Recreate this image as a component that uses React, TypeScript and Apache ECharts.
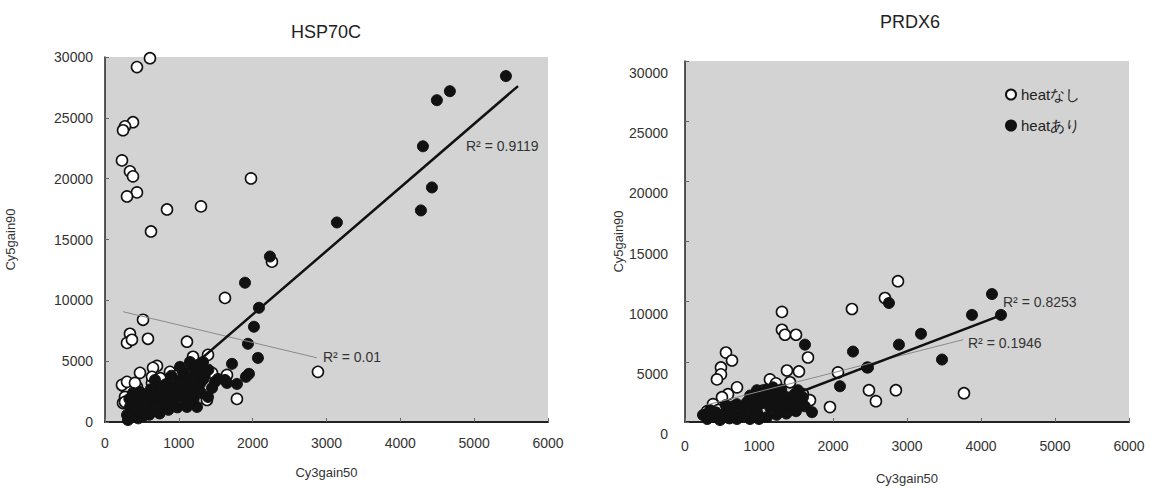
import React, { useEffect, useRef } from "react";
import * as echarts from "echarts";

const chartTitles = ["HSP70C", "PRDX6"];
const seriesNames = ["heatなし", "heatあり"];
const xAxisName = "Cy3gain50";
const yAxisName = "Cy5gain90";

// HSP70C, heat なし (open circles)
const hspNashi: number[][] = [
  [609, 29900], [433, 29170], [379, 24640], [271, 24300], [244, 23980], [230, 21500],
  [338, 20600], [379, 20190], [433, 18870], [298, 18540], [1977, 20020], [840, 17470],
  [1300, 17720], [623, 15660], [2261, 13180], [1625, 10200], [515, 8400], [338, 7250],
  [298, 6500], [365, 6760], [582, 6840], [1110, 6600], [1192, 5360], [1395, 5520],
  [704, 4610], [650, 4450], [474, 4040], [880, 4120], [244, 2970], [311, 2800],
  [433, 2880], [636, 3210], [650, 2470], [271, 2060], [244, 1560], [1449, 4040],
  [1652, 3870], [1787, 1900], [1381, 1810], [2884, 4120], [230, 3050], [298, 3300],
  [406, 3210], [636, 3710], [271, 1650], [900, 3300], [1000, 3900], [550, 2200],
  [750, 3600], [1200, 4300],
];

// HSP70C, heat あり (filled circles)
const hspAri: number[][] = [
  [5430, 28430], [4671, 27190], [4495, 26450], [4306, 22660], [4428, 19280], [4279, 17390],
  [3141, 16400], [2234, 13600], [1896, 11450], [2085, 9390], [2017, 7830], [1936, 6430],
  [2071, 5270], [1720, 4780], [1950, 3960], [1909, 3710], [1787, 3130], [1652, 3210],
  [1530, 3540], [1286, 3130], [1395, 2060], [1246, 1240], [1286, 4530], [1327, 4940],
  [1219, 4040], [1056, 4120], [1016, 3460], [1260, 3210], [907, 2880], [840, 2390],
  [1056, 2390], [921, 1560], [704, 1650], [569, 2060], [474, 2470], [379, 2390],
  [433, 1650], [338, 1240], [298, 580], [311, 160], [515, 990], [609, 1240],
  [785, 1240], [1110, 1240], [1083, 1810], [1490, 3300], [1625, 3460], [1151, 4940],
  [1016, 4530], [677, 3460], [745, 2880], [380, 800], [450, 300], [600, 600],
  [700, 2600], [1150, 2800], [950, 2000], [1200, 1900], [500, 1700], [800, 1900],
  [1000, 3000], [1350, 3800], [330, 1900], [420, 1100], [520, 500], [560, 1500],
  [650, 900], [660, 2200], [740, 700], [760, 2100], [860, 1000], [880, 1700],
  [980, 1200], [1000, 2500], [1060, 3200], [1130, 3600], [1180, 2300], [1230, 2700],
  [1300, 2400], [1330, 3500], [1400, 4300], [1450, 2800], [1180, 4600], [900, 3800],
  [820, 3100], [620, 2700], [360, 400], [700, 1200], [1150, 1700], [1260, 4700],
];

// PRDX6, heat なし
const prdNashi: number[][] = [
  [1310, 9150], [1310, 7660], [1351, 7250], [1500, 7250], [1662, 5360], [2256, 9390],
  [554, 5770], [635, 5110], [486, 4530], [486, 3960], [432, 3540], [703, 2880],
  [1378, 4280], [1540, 4200], [1148, 3540], [1229, 3210], [1419, 3300], [2067, 4120],
  [581, 2310], [500, 2060], [378, 1480], [1594, 2310], [1689, 1810], [1959, 1240],
  [2486, 2640], [2878, 11700], [2702, 10300], [2580, 1730], [2850, 2640], [3770, 2390],
  [300, 900], [450, 1000], [900, 2000], [1050, 2600],
];

// PRDX6, heat あり
const prdAri: number[][] = [
  [4148, 10630], [4270, 8900], [3878, 8900], [3189, 7330], [2891, 6430], [2473, 4530],
  [3473, 5190], [2756, 9890], [1621, 6430], [2270, 5850], [2459, 4530], [2094, 2970],
  [1716, 820], [243, 580], [378, 410], [513, 580], [648, 660], [783, 820],
  [918, 1070], [972, 2640], [1108, 2470], [1243, 2220], [1378, 2060], [1513, 1890],
  [1594, 2060], [1013, 1480], [1148, 1240], [1283, 1070], [1419, 1240], [1108, 410],
  [878, 250], [473, 160], [702, 250], [338, 990], [567, 1070], [702, 1480],
  [837, 1650], [1283, 1810], [1527, 2640], [1013, 2310], [1189, 2880],
  [300, 250], [420, 800], [600, 300], [650, 1300], [760, 500], [820, 1250],
  [900, 1800], [980, 700], [1060, 1900], [1160, 2000], [1230, 1500], [1330, 1550],
  [1450, 1550], [1480, 2300], [1560, 1450], [1000, 250], [1240, 600], [1370, 700],
  [1500, 900], [1620, 1300], [1100, 2700], [1300, 2700], [880, 2200], [550, 1400],
];

// Linear trend lines (end points in data space)
const hspAriTrend: number[][] = [[310, 0], [5594, 27610]];
const hspNashiTrend: number[][] = [[244, 9066], [2871, 5275]];
const prdAriTrend: number[][] = [[500, 0], [4284, 8901]];
const prdNashiTrend: number[][] = [[300, 1430], [3757, 6840]];

const r2Labels = ["R² = 0.9119", "R² = 0.01", "R² = 0.8253", "R² = 0.1946"];

const FONT = "'Liberation Sans', Arial, sans-serif";
const PLOT_BG = "#d3d3d3";

export default function App() {
  const ref = useRef<HTMLDivElement>(null);
  useEffect(() => {
    if (!ref.current) return;
    const chart = echarts.init(ref.current, undefined, { renderer: "svg" });
    const plain = (v: number) => String(v);

    const xAxisBase = (gridIndex: number, labelMargin: number, nameGap: number) => ({
      type: "value",
      gridIndex,
      min: 0,
      max: 6000,
      interval: 1000,
      name: xAxisName,
      nameLocation: "middle",
      nameGap,
      nameTextStyle: { fontFamily: FONT, fontSize: 13, color: "#333" },
      axisLine: { show: true, onZero: false, lineStyle: { color: "#222", width: 2 } },
      axisTick: { show: true, inside: true, length: 4, lineStyle: { color: "#666" } },
      axisLabel: { fontFamily: FONT, fontSize: 14, color: "#333", margin: labelMargin, formatter: plain },
      splitLine: { show: false },
    });
    const yAxisBase = (gridIndex: number, labelMargin: number, nameGap: number, shift: boolean) => ({
      type: "value",
      gridIndex,
      min: 0,
      max: 30000,
      interval: 5000,
      name: yAxisName,
      nameLocation: "middle",
      nameGap,
      nameTextStyle: { fontFamily: FONT, fontSize: 13, color: "#333" },
      axisLine: { show: true, onZero: false, lineStyle: { color: "#222", width: 1.5 } },
      axisTick: { show: true, inside: true, length: 4, lineStyle: { color: "#666" } },
      axisLabel: shift
        ? { fontFamily: FONT, fontSize: 14, color: "#333", margin: labelMargin, verticalAlign: "top", padding: [5, 0, 0, 0], formatter: plain }
        : { fontFamily: FONT, fontSize: 14, color: "#333", margin: labelMargin, formatter: plain },
      splitLine: { show: false },
    });

    const openStyle = { color: "#ffffff", borderColor: "#111", borderWidth: 1.6, opacity: 1 };
    const fillStyle = { color: "#111111", borderColor: "#111111", borderWidth: 1, opacity: 1 };

    chart.setOption({
      animation: false,
      backgroundColor: "#ffffff",
      title: [
        { text: chartTitles[0], left: 321, top: 18, textAlign: "center", textStyle: { fontFamily: FONT, fontSize: 18, fontWeight: "normal", color: "#222" } },
        { text: chartTitles[1], left: 905, top: 8, textAlign: "center", textStyle: { fontFamily: FONT, fontSize: 18, fontWeight: "normal", color: "#222" } },
      ],
      legend: {
        data: [
          { name: seriesNames[0], icon: "circle" },
          { name: seriesNames[1], icon: "circle" },
        ],
        orient: "vertical",
        left: 1000,
        top: 82,
        itemWidth: 10,
        itemHeight: 10,
        itemGap: 16,
        textStyle: { fontFamily: FONT, fontSize: 15, color: "#222" },
      },
      grid: [
        { left: 105, top: 57, width: 443, height: 365, show: true, backgroundColor: PLOT_BG, borderWidth: 0 },
        { left: 685, top: 61, width: 444, height: 364, show: true, backgroundColor: PLOT_BG, borderWidth: 0 },
      ],
      xAxis: [xAxisBase(0, 14, 44), xAxisBase(1, 17, 50)],
      yAxis: [yAxisBase(0, 12, 88, false), yAxisBase(1, 17, 47, true)],
      series: [
        { name: seriesNames[0], type: "scatter", xAxisIndex: 0, yAxisIndex: 0, symbol: "circle", symbolSize: 11, itemStyle: openStyle, data: hspNashi, z: 2 },
        { name: seriesNames[1], type: "scatter", xAxisIndex: 0, yAxisIndex: 0, symbol: "circle", symbolSize: 11, itemStyle: fillStyle, data: hspAri, z: 3 },
        { name: seriesNames[0], type: "scatter", xAxisIndex: 1, yAxisIndex: 1, symbol: "circle", symbolSize: 11, itemStyle: openStyle, data: prdNashi, z: 2 },
        { name: seriesNames[1], type: "scatter", xAxisIndex: 1, yAxisIndex: 1, symbol: "circle", symbolSize: 11, itemStyle: fillStyle, data: prdAri, z: 3 },
        { type: "line", xAxisIndex: 0, yAxisIndex: 0, data: hspNashiTrend, showSymbol: false, symbol: "none", lineStyle: { color: "#8a8a8a", width: 1 }, z: 4, silent: true },
        { type: "line", xAxisIndex: 0, yAxisIndex: 0, data: hspAriTrend, showSymbol: false, symbol: "none", lineStyle: { color: "#111", width: 2.5 }, z: 4, silent: true },
        { type: "line", xAxisIndex: 1, yAxisIndex: 1, data: prdNashiTrend, showSymbol: false, symbol: "none", lineStyle: { color: "#8a8a8a", width: 1 }, z: 4, silent: true },
        { type: "line", xAxisIndex: 1, yAxisIndex: 1, data: prdAriTrend, showSymbol: false, symbol: "none", lineStyle: { color: "#111", width: 2.5 }, z: 4, silent: true },
      ],
      graphic: [
        { type: "text", left: 466, top: 139, z: 10, style: { text: r2Labels[0], fontFamily: FONT, fontSize: 14, fill: "#333" } },
        { type: "text", left: 323, top: 350, z: 10, style: { text: r2Labels[1], fontFamily: FONT, fontSize: 14, fill: "#333" } },
        { type: "text", left: 1003, top: 295, z: 10, style: { text: r2Labels[2], fontFamily: FONT, fontSize: 14, fill: "#333" } },
        { type: "text", left: 968, top: 336, z: 10, style: { text: r2Labels[3], fontFamily: FONT, fontSize: 14, fill: "#333" } },
      ],
    });
    return () => chart.dispose();
  }, []);
  return (
    <div
      ref={ref}
      style={{ position: "fixed", left: 0, top: 0, width: 1150, height: 490, background: "#fff" }}
    />
  );
}
